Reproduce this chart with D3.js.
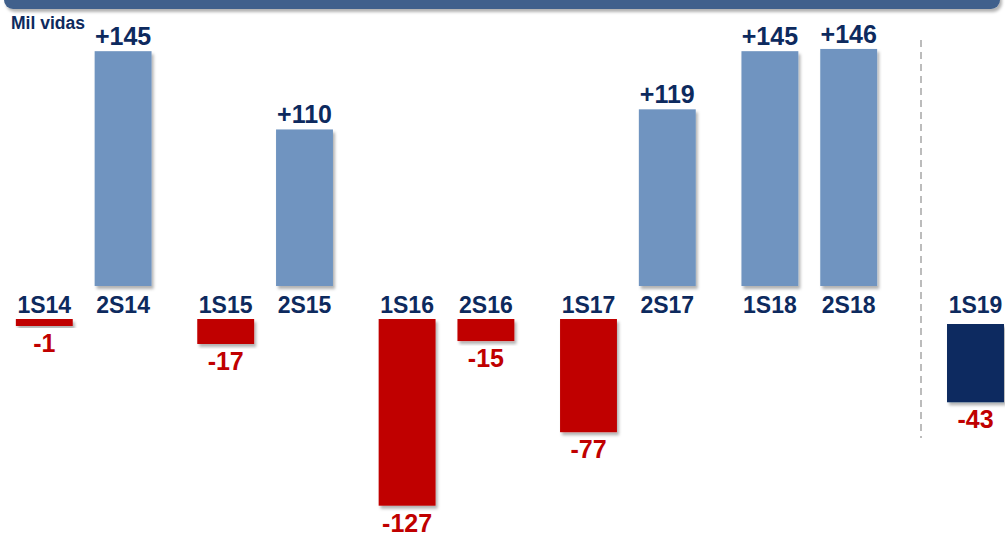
<!DOCTYPE html>
<html>
<head>
<meta charset="utf-8">
<script src="https://cdn.jsdelivr.net/npm/d3@7"></script>
<style>
  html, body { margin: 0; padding: 0; background: #ffffff; }
  svg { display: block; }
  text { font-family: "Liberation Sans", Arial, sans-serif; font-weight: bold; }
</style>
</head>
<body>
<div id="chart"></div>
<script>
// ---- data ----
const categories = ["1S14","2S14","1S15","2S15","1S16","2S16","1S17","2S17","1S18","2S18","1S19"];
const values     = [-1, 145, -17, 110, -127, -15, -77, 119, 145, 146, -43];
const years      = ["2014","2015","2016","2017","2018"];
const halves     = ["1S","2S"];
const sidePanel  = ["1S19"];
const unitLabel  = "Mil vidas";

const W = 1005, H = 538;
const data = categories.map((c, i) => ({ cat: c, value: values[i], half: c.slice(0,2), year: "20" + c.slice(2) }));

const svg = d3.select("#chart").append("svg").attr("width", W).attr("height", H);

const defs = svg.append("defs");
const f = defs.append("filter").attr("id", "shadow").attr("x", "-20%").attr("y", "-20%").attr("width", "140%").attr("height", "140%");
f.append("feDropShadow").attr("dx", 2).attr("dy", 3).attr("stdDeviation", 1.8).attr("flood-color", "#000").attr("flood-opacity", 0.3);

// ---- banner (top header, cut off) ----
svg.append("rect")
  .attr("x", 4).attr("y", -30).attr("width", 996).attr("height", 39)
  .attr("rx", 9).attr("fill", "#41618c").attr("filter", "url(#shadow)");

// ---- scales ----
const x0 = d3.scaleBand().domain(years).range([-7, 900]).paddingInner(0).paddingOuter(0);
const x1 = d3.scaleBand().domain(halves).range([0, x0.bandwidth()]).paddingInner(0.278).paddingOuter(0.29);
const xSide = d3.scaleBand().domain(sidePanel).range([937, 1014]).paddingInner(0.26).paddingOuter(0.13);

const yPos = d3.scaleLinear().domain([40, 150]).range([286, 40]);   // truncated axis for gains
const yNeg = d3.scaleLinear().domain([0, 130]).range([319, 319 + 1.47 * 130]);
const ySide = d3.scaleLinear().domain([0, 50]).range([324, 415]);

const isSide = d => sidePanel.includes(d.cat);
const bx = d => isSide(d) ? xSide(d.cat) : x0(d.year) + x1(d.half);
const bw = d => isSide(d) ? xSide.bandwidth() : x1.bandwidth();
const cx = d => bx(d) + bw(d) / 2;

function barTop(d) {
  if (d.value >= 0) return yPos(d.value);
  return isSide(d) ? ySide(0) : yNeg(0);
}
function barBottom(d) {
  if (d.value >= 0) return yPos(40);
  if (isSide(d)) return ySide(-d.value);
  return Math.max(yNeg(-d.value), yNeg(0) + 7);
}
function fillOf(d) {
  if (isSide(d)) return "#0f2b60";
  return d.value >= 0 ? "#6f94c0" : "#c00000";
}

// ---- separator ----
svg.append("line")
  .attr("x1", 921).attr("x2", 921).attr("y1", 40).attr("y2", 438)
  .attr("stroke", "#a6a6a6").attr("stroke-width", 1.5).attr("stroke-dasharray", "7,5");

// ---- bars ----
svg.append("g").selectAll("rect").data(data).join("rect")
  .attr("x", bx).attr("width", bw)
  .attr("y", barTop)
  .attr("height", d => barBottom(d) - barTop(d))
  .attr("fill", fillOf)
  .attr("filter", "url(#shadow)");

// ---- category labels ----
svg.append("g").selectAll("text").data(data).join("text")
  .attr("x", cx).attr("y", 313)
  .attr("text-anchor", "middle")
  .attr("font-size", 23)
  .attr("fill", "#0d2a5e")
  .text(d => d.cat);

// ---- value labels ----
const fmt = v => (v > 0 ? "+" : "") + v;
svg.append("g").selectAll("text").data(data).join("text")
  .attr("x", cx)
  .attr("y", d => d.value >= 0 ? barTop(d) - 6 : barBottom(d) + 26)
  .attr("text-anchor", "middle")
  .attr("font-size", 25)
  .attr("fill", d => d.value >= 0 ? "#0d2a5e" : "#c00000")
  .text(d => fmt(d.value));

// ---- unit label ----
svg.append("text")
  .attr("x", 11).attr("y", 29)
  .attr("font-size", 17.5)
  .attr("fill", "#0d2a5e")
  .text(unitLabel);
</script>
</body>
</html>
